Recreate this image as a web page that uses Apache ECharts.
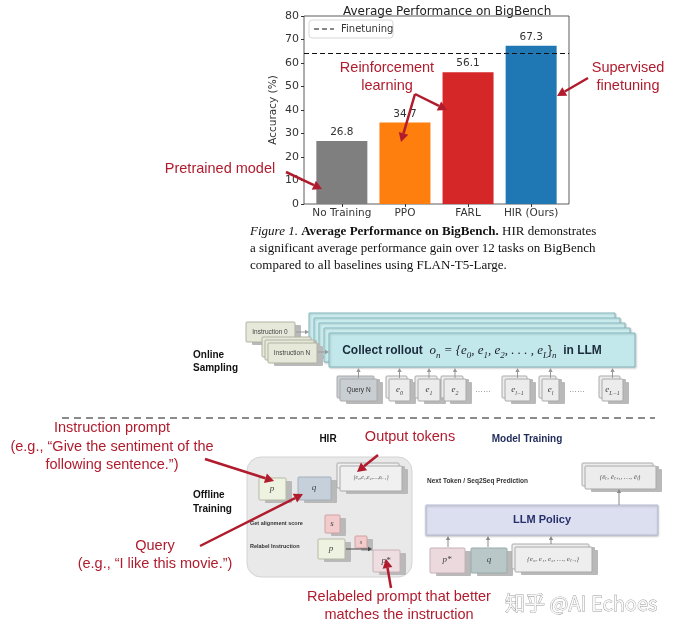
<!DOCTYPE html>
<html>
<head>
<meta charset="utf-8">
<script src="https://cdn.jsdelivr.net/npm/echarts@6/dist/echarts.min.js"></script>
<style>
  html, body { margin: 0; padding: 0; background: #fff; }
  #main { width: 679px; height: 632px; }
</style>
</head>
<body>
<div id="main"></div>
<script>
  // chart data
  const categories = ['No Training', 'PPO', 'FARL', 'HIR (Ours)'];
  const accuracy = [26.8, 34.7, 56.1, 67.3];
  const finetuning = 64;
  const barColors = ['#7f7f7f', '#ff7f0e', '#d62728', '#1f77b4'];

  const RED = '#b01c2e';
  const SANS = 'Liberation Sans, Arial, sans-serif';
  const MPL = 'DejaVu Sans, sans-serif';
  const SERIF = 'Liberation Serif, Times New Roman, serif';

  // helpers for the annotation graphics
  function txt(x, y, s, o) {
    o = o || {};
    return {
      type: 'text', x: x, y: y, z: 10,
      style: Object.assign({
        text: s, fill: o.color || '#222', fontSize: o.size || 12,
        fontFamily: o.family || SANS, fontWeight: o.weight || 'normal',
        fontStyle: o.style || 'normal',
        align: o.align || 'left', verticalAlign: 'middle'
      }, o.extra || {})
    };
  }
  function arrow(x1, y1, x2, y2, color, w, head) {
    const ang = Math.atan2(y2 - y1, x2 - x1);
    const hl = head || 10, hw = hl * 0.55;
    const bx = x2 - hl * Math.cos(ang), by = y2 - hl * Math.sin(ang);
    const px = -Math.sin(ang) * hw, py = Math.cos(ang) * hw;
    return [
      { type: 'line', z: 10, shape: { x1: x1, y1: y1, x2: bx, y2: by }, style: { stroke: color, lineWidth: w } },
      { type: 'polygon', z: 10, shape: { points: [[x2, y2], [bx + px, by + py], [bx - px, by - py]] }, style: { fill: color } }
    ];
  }
  function box(x, y, w, h, fill, stroke, layers, r) {
    const out = [];
    layers = layers || 1;
    for (let i = layers - 1; i >= 0; i--) {
      out.push({ type: 'rect', z: 5, shape: { x: x + 3 - 3 * i + 3, y: y + 3 - 3 * i + 0, width: w, height: h, r: r || 1 }, style: { fill: '#b9b9b9' } });
      out.push({ type: 'rect', z: 5, shape: { x: x - 3 * i, y: y - 3 * i, width: w, height: h, r: r || 1 }, style: { fill: fill, stroke: stroke, lineWidth: 1 } });
    }
    return out;
  }
  const mathRich = {
    m: { fontFamily: SERIF, fontStyle: 'italic', fontSize: 13, fill: '#223' },
    s: { fontFamily: SERIF, fontStyle: 'italic', fontSize: 9, fill: '#223', verticalAlign: 'bottom', lineHeight: 18 },
    t: { fontFamily: SANS, fontWeight: 'bold', fontSize: 12, fill: '#1b2b3a' }
  };

  const g = [];

  // legend box (drawn by hand, matplotlib style)
  g.push({ type: 'rect', z: 8, shape: { x: 309, y: 20, width: 84, height: 18, r: 3 }, style: { fill: '#fff', stroke: '#d8d8d8', lineWidth: 1 } });
  g.push({ type: 'line', z: 9, shape: { x1: 314, y1: 29, x2: 334, y2: 29 }, style: { stroke: '#111', lineWidth: 1.2, lineDash: [5, 3] } });
  g.push(txt(341, 29, 'Finetuning', { family: MPL, size: 10, color: '#333' }));

  // chart annotations
  g.push(txt(387, 68, 'Reinforcement', { color: RED, size: 14.5, align: 'center' }));
  g.push(txt(387, 86, 'learning', { color: RED, size: 14.5, align: 'center' }));
  g.push(txt(628, 68, 'Supervised', { color: RED, size: 14.5, align: 'center' }));
  g.push(txt(628, 86, 'finetuning', { color: RED, size: 14.5, align: 'center' }));
  g.push(txt(220, 169, 'Pretrained model', { color: RED, size: 14.5, align: 'center' }));
  g.push(...arrow(286, 172, 322, 189, RED, 2.5, 9));
  g.push(...arrow(415, 94, 401, 142, RED, 2.5, 9));
  g.push(...arrow(415, 94, 447, 110, RED, 2.5, 9));
  g.push(...arrow(588, 78, 557, 96, RED, 2.5, 9));

  // caption
  g.push(txt(250, 232, '{i|Figure 1.} {b|Average Performance on BigBench.} HIR demonstrates', {
    family: SERIF, size: 13, color: '#111',
    extra: { rich: { i: { fontStyle: 'italic', fontFamily: SERIF, fontSize: 13, fill: '#111' }, b: { fontWeight: 'bold', fontFamily: SERIF, fontSize: 13, fill: '#111' } } }
  }));
  g.push(txt(250, 249, 'a significant average performance gain over 12 tasks on BigBench', { family: SERIF, size: 13, color: '#111' }));
  g.push(txt(250, 266, 'compared to all baselines using FLAN-T5-Large.', { family: SERIF, size: 13, color: '#111' }));

  // online sampling
  g.push(txt(193, 355, 'Online', { weight: 'bold', size: 10, color: '#111' }));
  g.push(txt(193, 368, 'Sampling', { weight: 'bold', size: 10, color: '#111' }));
  for (let i = 4; i >= 0; i--) {
    g.push({ type: 'rect', z: 4, shape: { x: 329 - 5 * i, y: 333 - 5 * i, width: 306, height: 34 },
      style: { fill: i === 0 ? '#c2e8ec' : '#cdeef0', stroke: '#86b9be', lineWidth: 1, shadowBlur: 2, shadowColor: 'rgba(0,0,0,0.2)', shadowOffsetX: 1, shadowOffsetY: 1 } });
  }
  g.push(txt(472, 351, '{t|Collect rollout  }{m|o}{s|n}{m| = {e}{s|0}{m|, e}{s|1}{m|, e}{s|2}{m|, . . . , e}{s|L}{m|\u007D}{s|n}{t|  in LLM}', {
    align: 'center', extra: { rich: mathRich }
  }));
  g.push(...box(246, 322, 49, 20, '#e6e8da', '#b0b2a0'));
  g.push(txt(270, 332, 'Instruction 0', { size: 6.5, color: '#444', align: 'center' }));
  g.push(...arrow(296, 332, 309, 332, '#999', 1, 4));
  g.push(...box(268, 343, 49, 20, '#e6e8da', '#b0b2a0', 3));
  g.push(txt(292, 353, 'Instruction N', { size: 6.5, color: '#444', align: 'center' }));
  g.push(...arrow(318, 352, 329, 352, '#999', 1, 4));

  const tokens = [
    [340, 37, '{q|Query N}'], [389, 21, '{m|e}{s|0}'], [418, 22, '{m|e}{s|1}'], [444, 22, '{m|e}{s|2}'],
    [505, 25, '{m|e}{s|l\u22121}'], [542, 17, '{m|e}{s|l}'], [602, 21, '{m|e}{s|L\u22121}']
  ];
  const tokRich = {
    m: { fontFamily: SERIF, fontStyle: 'italic', fontSize: 9, fill: '#444' },
    s: { fontFamily: SERIF, fontStyle: 'italic', fontSize: 6, fill: '#444', verticalAlign: 'bottom', lineHeight: 12 },
    q: { fontFamily: SANS, fontSize: 6.5, fill: '#333' }
  };
  tokens.forEach(function (t, k) {
    g.push(...box(t[0], 379, t[1], 22, k === 0 ? '#c9ced3' : '#ececec', '#aaa', 2));
    g.push(txt(t[0] + t[1] / 2, 390, t[2], { align: 'center', extra: { rich: tokRich } }));
    g.push(...arrow(t[0] + t[1] / 2, 378, t[0] + t[1] / 2, 368, '#999', 1, 4));
  });
  g.push(txt(483, 390, '\u2026\u2026', { size: 8, color: '#666', align: 'center' }));
  g.push(txt(577, 390, '\u2026\u2026', { size: 8, color: '#666', align: 'center' }));

  // separator
  g.push({ type: 'line', z: 3, shape: { x1: 62, y1: 418, x2: 655, y2: 418 }, style: { stroke: '#666', lineWidth: 1.5, lineDash: [7, 5] } });

  // offline training (HIR)
  g.push(txt(328, 439, 'HIR', { weight: 'bold', size: 10, color: '#111', align: 'center' }));
  g.push(txt(527, 439, 'Model Training', { weight: 'bold', size: 10, color: '#1f2a5a', align: 'center' }));
  g.push(txt(410, 437, 'Output tokens', { color: RED, size: 14.5, align: 'center' }));
  g.push(txt(193, 495, 'Offline', { weight: 'bold', size: 10, color: '#111' }));
  g.push(txt(193, 509, 'Training', { weight: 'bold', size: 10, color: '#111' }));
  g.push({ type: 'rect', z: 3, shape: { x: 247, y: 457, width: 165, height: 120, r: 14 }, style: { fill: '#e9e9e9', stroke: '#d3d3d3' } });
  g.push(...box(259, 478, 27, 22, '#eef2e0', '#b5b9a5'));
  g.push(txt(272, 489, '{m|p}', { align: 'center', extra: { rich: tokRich } }));
  g.push(...box(298, 477, 33, 23, '#c5d0da', '#a5b0ba'));
  g.push(txt(314, 488, '{m|q}', { align: 'center', extra: { rich: tokRich } }));
  g.push(...box(340, 466, 62, 25, '#f0f0f0', '#aaa', 2));
  g.push(txt(371, 478, '{e\u2080,e\u2081,e\u2082,\u2026,e\u2097\u208B\u2081}', { size: 5.5, family: SERIF, style: 'italic', color: '#555', align: 'center' }));
  g.push(txt(250, 523, 'Get alignment score', { size: 5.5, weight: 'bold', color: '#333' }));
  g.push(...box(325, 515, 15, 18, '#f2cccc', '#d0a0a0'));
  g.push(txt(332, 524, '{m|s}', { align: 'center', extra: { rich: tokRich } }));
  g.push(txt(250, 546, 'Relabel Instruction', { size: 5.5, weight: 'bold', color: '#333' }));
  g.push(...box(318, 539, 27, 20, '#eef2e0', '#b5b9a5'));
  g.push(txt(331, 549, '{m|p}', { align: 'center', extra: { rich: tokRich } }));
  g.push(...box(355, 536, 12, 12, '#f2cccc', '#d0a0a0'));
  g.push(txt(361, 542, 's', { size: 6, family: SERIF, style: 'italic', color: '#444', align: 'center' }));
  g.push(...arrow(346, 549, 372, 549, '#444', 1, 4));
  g.push(...box(373, 550, 27, 22, '#eedee2', '#c8b0b6'));
  g.push(txt(386, 561, '{m|p*}', { align: 'center', extra: { rich: tokRich } }));

  // red annotations bottom
  g.push(txt(112, 428, 'Instruction prompt', { color: RED, size: 14.5, align: 'center' }));
  g.push(txt(112, 447, '(e.g., \u201CGive the sentiment of the', { color: RED, size: 14.5, align: 'center' }));
  g.push(txt(112, 465, 'following sentence.\u201D)', { color: RED, size: 14.5, align: 'center' }));
  g.push(txt(155, 546, 'Query', { color: RED, size: 14.5, align: 'center' }));
  g.push(txt(155, 564, '(e.g., \u201CI like this movie.\u201D)', { color: RED, size: 14.5, align: 'center' }));
  g.push(txt(399, 597, 'Relabeled prompt that better', { color: RED, size: 14.5, align: 'center' }));
  g.push(txt(399, 615, 'matches the instruction', { color: RED, size: 14.5, align: 'center' }));
  g.push(...arrow(205, 459, 274, 481, RED, 2.5, 9));
  g.push(...arrow(200, 546, 303, 494, RED, 2.5, 9));
  g.push(...arrow(378, 455, 357, 472, RED, 2.5, 9));
  g.push(...arrow(391, 588, 386, 559, RED, 2.5, 9));

  // model training side
  g.push(txt(427, 481, 'Next Token / Seq2Seq Prediction', { size: 6.5, weight: 'bold', color: '#333' }));
  g.push(...box(585, 466, 71, 23, '#ececec', '#aaa', 2));
  g.push(txt(620, 477, '{\u00EA\u209C, \u00EA\u209C\u208A\u2081, \u2026, \u00EA\u2097}', { size: 7, family: SERIF, style: 'italic', color: '#555', align: 'center' }));
  g.push(...arrow(619, 505, 619, 489, '#888', 1, 4));
  g.push({ type: 'rect', z: 4, shape: { x: 426, y: 505, width: 232, height: 30 }, style: { fill: '#dcdff0', stroke: '#bcc0d8', shadowBlur: 2, shadowColor: 'rgba(0,0,0,0.25)', shadowOffsetY: 1 } });
  g.push(txt(542, 520, 'LLM Policy', { size: 11, weight: 'bold', color: '#27306b', align: 'center' }));
  g.push(...box(430, 548, 35, 25, '#ecd9de', '#c6b0b6'));
  g.push(txt(447, 560, '{m|p*}', { align: 'center', extra: { rich: tokRich } }));
  g.push(...box(471, 548, 36, 25, '#b9c7c8', '#9aa9aa'));
  g.push(txt(489, 560, '{m|q}', { align: 'center', extra: { rich: tokRich } }));
  g.push(...box(515, 547, 77, 25, '#eeeeee', '#aaa', 2));
  g.push(txt(553, 559, '{e\u2080, e\u2081, e\u2082, \u2026, e\u209C\u208B\u2081}', { size: 7, family: SERIF, style: 'italic', color: '#555', align: 'center' }));
  g.push(...arrow(448, 547, 448, 536, '#888', 1, 4));
  g.push(...arrow(488, 547, 488, 536, '#888', 1, 4));
  g.push(...arrow(551, 544, 551, 536, '#888', 1, 4));

  // watermark
  g.push(txt(505, 603, '\u77E5\u4E4E @AI Echoes', {
    size: 20, family: 'Noto Sans CJK SC, sans-serif', color: 'rgba(250,250,250,0.95)',
    extra: { stroke: '#9a9a9a', lineWidth: 0.8 }
  }));

  const chart = echarts.init(document.getElementById('main'));
  chart.setOption({
    backgroundColor: '#fff',
    animation: false,
    title: {
      text: 'Average Performance on BigBench',
      left: 338, top: 1,
      textStyle: { fontFamily: MPL, fontSize: 12, fontWeight: 'normal', color: '#222' }
    },
    grid: {
      left: 304, top: 16, width: 265, height: 188,
      show: true, borderColor: '#333', borderWidth: 0.8, backgroundColor: 'transparent'
    },
    xAxis: {
      type: 'value', min: -0.6, max: 3.6,
      axisLine: { show: false, onZero: false },
      splitLine: { show: false },
      axisTick: { show: true, customValues: [0, 1, 2, 3], length: 3, lineStyle: { color: '#333' } },
      axisLabel: {
        customValues: [0, 1, 2, 3],
        formatter: function (v) { return categories[Math.round(v)]; },
        fontFamily: MPL, fontSize: 10.5, color: '#333', margin: 4
      }
    },
    yAxis: {
      type: 'value', min: 0, max: 80, interval: 10,
      name: 'Accuracy (%)', nameLocation: 'middle', nameGap: 25, nameRotate: 90,
      nameTextStyle: { fontFamily: MPL, fontSize: 10.5, color: '#333' },
      axisLine: { show: false, onZero: false },
      splitLine: { show: false },
      axisTick: { show: true, length: 3, lineStyle: { color: '#333' } },
      axisLabel: { fontFamily: MPL, fontSize: 11, color: '#333', margin: 5 }
    },
    series: [
      {
        type: 'bar',
        barWidth: 51,
        data: accuracy.map(function (v, i) {
          return { value: [i, v], itemStyle: { color: barColors[i] } };
        }),
        label: {
          show: true, position: 'top', distance: 3,
          formatter: function (p) { return p.value[1].toFixed(1); },
          fontFamily: MPL, fontSize: 10.5, color: '#333'
        },
        markLine: {
          silent: true, symbol: 'none',
          label: { show: false },
          lineStyle: { type: [5, 3], color: '#111', width: 1.2 },
          data: [{ yAxis: finetuning }]
        }
      }
    ],
    graphic: g
  });
</script>
</body>
</html>
